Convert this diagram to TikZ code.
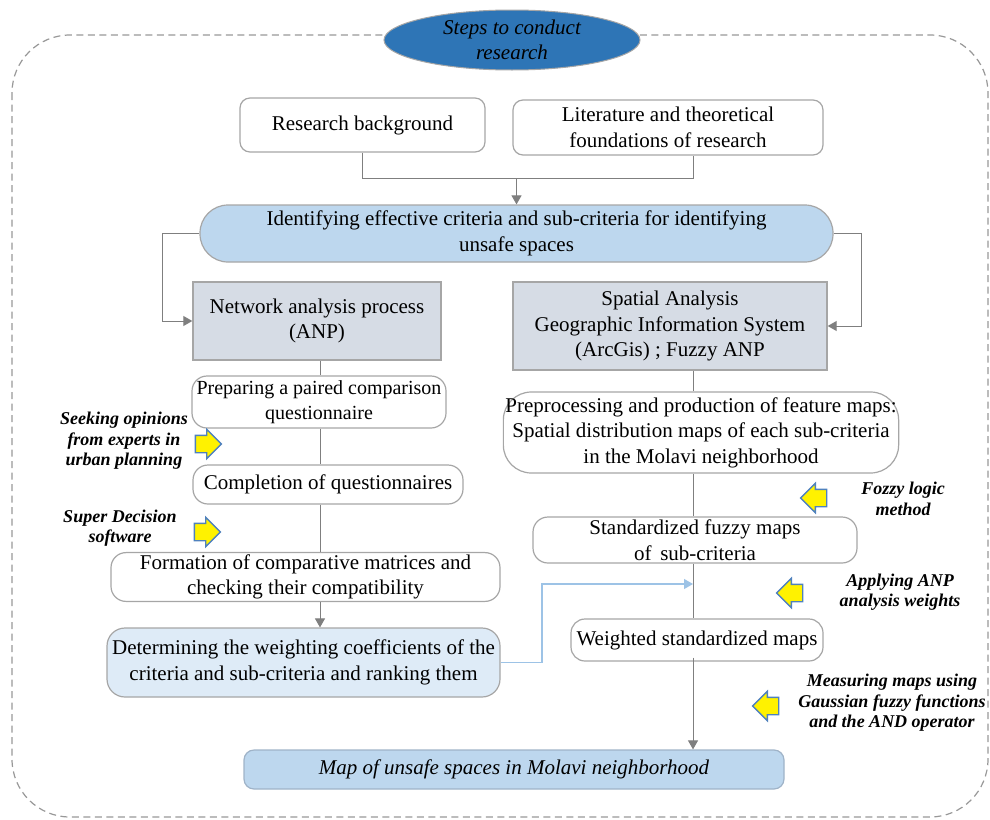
\documentclass[tikz,border=0pt]{standalone}
\usepackage{fontspec}
\setmainfont{Liberation Serif}
\usetikzlibrary{arrows.meta,shapes.geometric,shapes.arrows}
\definecolor{boxline}{HTML}{A6A6A6}
\definecolor{connc}{HTML}{7F7F7F}
\definecolor{bconnc}{HTML}{9DC3E6}
\definecolor{headfill}{HTML}{2E75B6}
\definecolor{identfill}{HTML}{BDD7EE}
\definecolor{detfill}{HTML}{DEEBF7}
\definecolor{anpfill}{HTML}{D6DCE5}
\definecolor{finline}{HTML}{9FB3C8}
\definecolor{yarrowline}{HTML}{4F81BD}
\tikzset{
  txt/.style={font=\fontsize{21}{25.5}\selectfont, align=center},
  lbl/.style={font=\fontsize{18}{20.5}\selectfont\bfseries\itshape, align=center},
  wbox/.style={txt, draw=boxline, line width=1.2pt, fill=white, inner sep=2pt},
  gbox/.style={txt, draw=boxline, line width=1.4pt, fill=anpfill, inner sep=2pt},
  conn/.style={draw=connc, line width=1pt},
  conna/.style={conn, -{Triangle[width=10pt,length=9pt]}},
  bconn/.style={draw=bconnc, line width=1.2pt, -{Triangle[width=10pt,length=9pt]}},
  yarrow/.style={single arrow, draw=yarrowline, line width=1.4pt, fill=yellow,
    minimum height=22pt, inner sep=8pt, single arrow head extend=6pt},
  yarrowL/.style={yarrow, shape border rotate=180},
}
\begin{document}
\begin{tikzpicture}[x=1pt,y=-1pt]
\useasboundingbox (0,0) rectangle (990,819);
% outer dashed frame
\draw[connc!80, line width=1.2pt, dash pattern=on 7pt off 4.5pt, rounded corners=58pt]
  (12,35) rectangle (988,817);
% header
\node[ellipse, draw=boxline, line width=1pt, fill=headfill, minimum width=256pt, minimum height=60pt,
  inner sep=0pt, font=\fontsize{21}{25.5}\selectfont\itshape, align=center] (head) at (512,40)
  {Steps to conduct\\research};
% top boxes
\node[wbox, rounded corners=10pt, minimum width=245pt, minimum height=54pt] (rb) at (362.5,125) {Research background};
\node[wbox, rounded corners=10pt, minimum width=310pt, minimum height=55pt] (lit) at (668,127.5) {Literature and theoretical\\foundations of research};
\node[wbox, draw=boxline, fill=identfill, rounded corners=28pt, minimum width=633pt, minimum height=57pt] (ident) at (516.5,233.5)
  {Identifying effective criteria and sub-criteria for identifying\\unsafe spaces};
% method boxes
\node[gbox, minimum width=248pt, minimum height=78pt] (anp) at (317,321) {Network analysis process\\(ANP)};
\node[gbox, minimum width=314pt, minimum height=88pt] (spa) at (670,326) {Spatial Analysis\\Geographic Information System\\(ArcGis) ; Fuzzy ANP};
% left column
\node[wbox, rounded corners=15pt, minimum width=254pt, minimum height=52pt, inner sep=0pt,
  font=\fontsize{20}{25}\selectfont] (prep) at (319,402) {Preparing a paired comparison\\questionnaire};
\node[wbox, rounded corners=15pt, minimum width=270pt, minimum height=39pt] (comp) at (328,484.5) {Completion of questionnaires};
\node[wbox, rounded corners=15pt, minimum width=389pt, minimum height=48pt] (form) at (305.5,577) {Formation of comparative matrices and\\checking their compatibility};
\node[wbox, fill=detfill, rounded corners=18pt, minimum width=393pt, minimum height=69pt] (det) at (303.5,662.5) {Determining the weighting coefficients of the\\criteria and sub-criteria and ranking them};
% right column
\node[wbox, rounded corners=28pt, minimum width=394pt, minimum height=81pt] (pre2) at (701,432.5) {Preprocessing and production of feature maps:\\Spatial distribution maps of each sub-criteria\\in the Molavi neighborhood};
\node[wbox, rounded corners=15pt, minimum width=324pt, minimum height=46pt] (std) at (695,540) {Standardized fuzzy maps\\of\, sub-criteria};
\node[wbox, rounded corners=14pt, minimum width=252pt, minimum height=42pt] (wt) at (697,640) {Weighted standardized maps};
% final
\node[wbox, draw=finline, fill=identfill, rounded corners=10pt, minimum width=540pt, minimum height=39pt,
  font=\fontsize{21}{25.5}\selectfont\itshape] (fin) at (514,769.5) {Map of unsafe spaces in Molavi neighborhood};
% helper coordinates
\coordinate (cl) at (320,0);
\coordinate (cr) at (693,0);
\coordinate (j1) at (518,178);
\coordinate (lc) at (162,321);
\coordinate (rc) at (861,326);
\coordinate (bk) at (542,584);
\coordinate (jb) at (693,584);
% connectors
\draw[conn] (rb.south) |- ([xshift=25pt]lit.south |- j1) -- ([xshift=25pt]lit.south);
\draw[conna] (ident.north |- j1) -- (ident.north);
\draw[conna] (ident.west) -| (lc) -- (anp.west);
\draw[conna] (ident.east) -| (rc) -- (spa.east);
\draw[conn] (anp.south -| cl) -- (prep.north -| cl);
\draw[conn] (prep.south -| cl) -- (comp.north -| cl);
\draw[conn] (comp.south -| cl) -- (form.north -| cl);
\draw[conna] (form.south -| cl) -- (det.north -| cl);
\draw[conn] (spa.south -| cr) -- (pre2.north -| cr);
\draw[conn] (pre2.south -| cr) -- (std.north -| cr);
\draw[conn] (std.south -| cr) -- (wt.north -| cr);
\draw[conna] ([yshift=4pt]wt.south -| cr) -- (fin.north -| cr);
\draw[bconn] (det.east) -| (bk) -- (jb);
% side labels and arrows
\node[yarrow] (ya1) at (204,444) {};
\node[yarrow] (ya2) at (203,532) {};
\node[yarrowL] (ya3) at (818,498) {};
\node[yarrowL] (ya4) at (794,593) {};
\node[yarrowL] (ya5) at (770,706) {};
\node[lbl] (l1) at (124,441) {Seeking opinions\\from experts in\\urban planning};
\node[lbl] (l2) at (120,528) {Super Decision\\software};
\node[lbl] (l3) at (903,499) {Fozzy logic\\method};
\node[lbl] (l4) at (900,592) {Applying ANP\\analysis weights};
\node[lbl] (l5) at (892,703) {Measuring maps using\\Gaussian fuzzy functions\\and the AND operator};
\end{tikzpicture}
\end{document}
